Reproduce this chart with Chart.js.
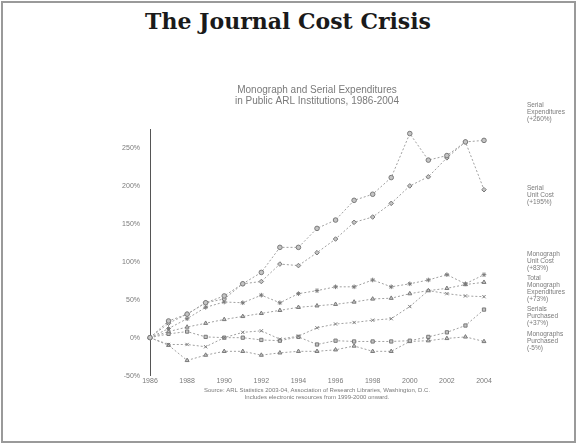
<!DOCTYPE html>
<html>
<head>
<meta charset="utf-8">
<script src="https://cdn.jsdelivr.net/npm/chart.js@4.4.0/dist/chart.umd.min.js"></script>
<style>
  body { margin: 0; background: #fff; }
  #frame { position: absolute; left: 1px; top: 1px; width: 571px; height: 438px; border: 2px solid #9a9a9a; background: #fff; }
  h1 { position: absolute; left: 0; top: 8px; width: 576px; margin: 0; text-align: center;
       font-family: "DejaVu Serif", serif; font-weight: bold; font-size: 22px; color: #1a1a1a; }
  #wrap { position: absolute; left: 0; top: 55px; width: 576px; height: 348px; }
</style>
</head>
<body>
<div id="frame"></div>
<h1>The Journal Cost Crisis</h1>
<div id="wrap"><canvas id="chartCosts"></canvas></div>
<script>
const years = ['1986', '1987', '1988', '1989', '1990', '1991', '1992', '1993', '1994', '1995',
    '1996', '1997', '1998', '1999', '2000', '2001', '2002', '2003', '2004'];
const serialExpenditures = [0, 22, 31, 46, 55, 71, 86, 119, 119, 144, 155, 181, 189, 211, 269, 234, 240, 258, 260];
const serialUnitCost = [0, 19, 31, 46, 51, 71, 74, 97, 95, 112, 130, 152, 159, 177, 200, 212, 237, 258, 195];
const monographUnitCost = [0, 12, 25, 40, 47, 46, 56, 46, 58, 62, 67, 67, 76, 67, 71, 76, 83, 71, 83];
const monographExpenditures = [0, 8, 14, 19, 24, 28, 32, 36, 40, 42, 44, 47, 51, 52, 58, 62, 65, 70, 73];
const totalExpenditures = [0, -9, -9, -12, 0, 7, 9, -2, 2, 13, 18, 20, 23, 25, 41, 62, 58, 55, 54];
const serialsPurchased = [0, 5, 8, 1, 0, 0, -3, -4, 1, -9, -4, -5, -5, -5, -4, 1, 7, 16, 37];
const monographsPurchased = [0, -10, -30, -23, -18, -18, -23, -20, -18, -18, -16, -11, -18, -18, -5, -4, -1, 1, -5];

const yTicks = [-50, 0, 50, 100, 150, 200, 250];

// text at the right end of the lines
const endLabels = [
    ['Serial', 'Expenditures', '(+260%)'],
    ['Serial', 'Unit Cost', '(+195%)'],
    ['Monograph', 'Unit Cost', '(+83%)'],
    ['Total', 'Monograph', 'Expenditures', '(+73%)'],
    null,
    ['Serials', 'Purchased', '(+37%)'],
    ['Monographs', 'Purchased', '(-5%)']
];
// small vertical nudges (px) so labels sit where they do on the slide
const labelNudge = [-28, 6, 0, 0, 0, 0, 0];

const grey = '#a0a0a0';
const markGrey = '#7a7a7a';

function series(data, style) {
    return {
        data: data,
        borderColor: grey,
        borderWidth: 1,
        borderDash: [2, 2],
        pointStyle: style,
        pointRadius: 2.3,
        pointBorderColor: markGrey,
        pointBackgroundColor: '#c4c4c4',
        pointBorderWidth: 1,
        tension: 0,
        clip: false
    };
}

const endLabelPlugin = {
    id: 'endLabels',
    afterDatasetsDraw(chart) {
        const ctx = chart.ctx;
        const y = chart.scales.y;
        const lineH = 7;
        const boxes = [];
        chart.data.datasets.forEach((ds, i) => {
            const lines = endLabels[i];
            if (!lines) return;
            const h = lines.length * lineH;
            boxes.push({ lines, h, i, c: y.getPixelForValue(ds.data[ds.data.length - 1]) });
        });
        // push apart overlapping boxes
        boxes.sort((a, b) => a.c - b.c);
        for (let k = 0; k < 40; k++) {
            for (let j = 1; j < boxes.length; j++) {
                const a = boxes[j - 1], b = boxes[j];
                const gap = (a.c + a.h / 2 + 3) - (b.c - b.h / 2);
                if (gap > 0) { a.c -= gap / 2; b.c += gap / 2; }
            }
        }
        ctx.save();
        ctx.font = '6.5px "Liberation Sans", Arial, sans-serif';
        ctx.fillStyle = '#7a7a7a';
        ctx.textAlign = 'left';
        ctx.textBaseline = 'middle';
        const x = chart.chartArea.right + 43;
        boxes.forEach(b => {
            const top = b.c + labelNudge[b.i] - b.h / 2;
            b.lines.forEach((t, n) => {
                ctx.fillText(t, x, top + lineH * (n + 0.5));
            });
        });
        ctx.restore();
    }
};

const ctx = document.getElementById('chartCosts').getContext('2d');
const myChart = new Chart(ctx, {
    type: 'line',
    data: {
        labels: years,
        datasets: [
            series(serialExpenditures, 'circle'),
            series(serialUnitCost, 'rectRot'),
            series(monographUnitCost, 'star'),
            series(monographExpenditures, 'triangle'),
            series(totalExpenditures, 'crossRot'),
            series(serialsPurchased, 'rect'),
            series(monographsPurchased, 'triangle')
        ]
    },
    options: {
        responsive: true,
        maintainAspectRatio: false,
        animation: false,
        layout: { padding: { top: 30, left: 108, right: 92, bottom: 2 } },
        plugins: {
            legend: { display: false },
            tooltip: { enabled: false },
            title: {
                display: true,
                fullSize: false,
                text: ['Monograph and Serial Expenditures', 'in Public ARL Institutions, 1986-2004'],
                color: '#7a7a7a',
                font: { family: '"Liberation Sans", Arial, sans-serif', size: 10, weight: 'normal', lineHeight: 1.1 },
                padding: { top: 0, bottom: 22 }
            },
            subtitle: {
                display: true,
                position: 'bottom',
                fullSize: false,
                text: ['Source: ARL Statistics 2003-04, Association of Research Libraries, Washington, D.C.',
                       'Includes electronic resources from 1999-2000 onward.'],
                color: '#7a7a7a',
                font: { family: '"Liberation Sans", Arial, sans-serif', size: 6, lineHeight: 1.2 },
                padding: { top: 1, bottom: 0 }
            }
        },
        scales: {
            x: {
                offset: false,
                grid: { display: false, drawTicks: false },
                border: { display: false },
                afterFit(s) { s.height = 10; },
                ticks: {
                    autoSkip: false,
                    maxRotation: 0,
                    padding: 1,
                    color: '#7a7a7a',
                    font: { family: '"Liberation Sans", Arial, sans-serif', size: 7 },
                    callback: function (v, i) { return i % 2 === 0 ? years[i] : ''; }
                }
            },
            y: {
                min: -50,
                max: 275,
                grid: { display: false, drawTicks: false },
                border: { display: true, color: '#555', width: 1, dash: [1, 1] },
                afterFit(s) { s.width = 42; },
                afterBuildTicks(s) { s.ticks = yTicks.map(v => ({ value: v })); },
                ticks: {
                    padding: 10,
                    color: '#7a7a7a',
                    font: { family: '"Liberation Sans", Arial, sans-serif', size: 7 },
                    callback: v => v + '%'
                }
            }
        }
    },
    plugins: [endLabelPlugin]
});
</script>
</body>
</html>
